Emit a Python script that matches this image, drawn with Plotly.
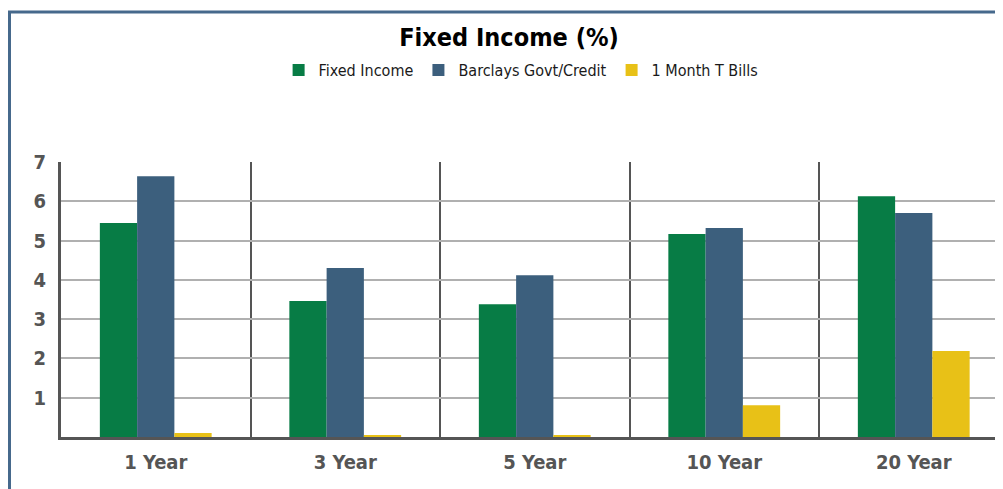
import plotly.graph_objects as go

categories = ["1 Year", "3 Year", "5 Year", "10 Year", "20 Year"]
fixed_income = [5.45, 3.46, 3.38, 5.17, 6.13]
barclays = [6.64, 4.30, 4.12, 5.32, 5.70]
tbills = [0.10, 0.05, 0.05, 0.81, 2.19]
y_ticks = [1, 2, 3, 4, 5, 6, 7]

FONT = "DejaVu Sans Condensed, sans-serif"

fig = go.Figure()
fig.add_trace(go.Bar(name="Fixed Income", x=categories, y=fixed_income, marker=dict(color="#077c45", line_width=0)))
fig.add_trace(go.Bar(name="Barclays Govt/Credit", x=categories, y=barclays, marker=dict(color="#3c5f7d", line_width=0)))
fig.add_trace(go.Bar(name="1 Month T Bills", x=categories, y=tbills, marker=dict(color="#e8c117", line_width=0)))

# page body has an 8px offset
OFF = 8
W, H = 1003 - OFF, 489 - OFF
ml, mt, mb = 61 - OFF, 162 - OFF, 52
pw, ph = W - ml, H - mt - mb

fig.update_layout(
    width=W, height=H,
    margin=dict(l=ml, r=0, t=mt, b=mb, pad=0),
    paper_bgcolor="white", plot_bgcolor="white",
    barmode="group", bargap=0.41, bargroupgap=0,
    title=dict(text="Fixed Income (%)", x=(509 - OFF) / W, xanchor="center",
               y=1 - (37 - OFF) / H, yanchor="middle",
               font=dict(family=FONT, size=25, color="black", weight="bold")),
    legend=dict(orientation="h", x=(494 - OFF) / W, xanchor="center", y=1 - (70 - OFF) / H, yanchor="middle",
                yref="container", font=dict(family=FONT, size=16, color="#1a1a1a"),
                itemwidth=30, tracegroupgap=0),
    showlegend=True,
)
fig.update_xaxes(
    range=[-0.5, -0.5 + pw / 189.5],
    tickson="boundaries", showgrid=True, gridcolor="#555555", gridwidth=2,
    ticks="", showline=True, linecolor="#555555", linewidth=3,
    tickfont=dict(family=FONT, size=20, color="#555555", weight="bold"),
    ticklabelstandoff=5,
)
fig.update_yaxes(
    range=[0, 7], tickvals=y_ticks, showgrid=True, gridcolor="#b0b0b0", gridwidth=1.5,
    showline=True, linecolor="#555555", linewidth=3, zeroline=False,
    tickfont=dict(family=FONT, size=20, color="#555555", weight="bold"),
    ticks="", ticklabelstandoff=8,
)
# outer frame border
fig.add_shape(type="rect", xref="paper", yref="paper",
              x0=(9.5 - 61) / pw, x1=1.2, y0=-0.5, y1=1 + (162 - 12) / ph,
              line=dict(color="#46698c", width=3), fillcolor="rgba(0,0,0,0)", layer="above")

fig.write_html("out.html")
